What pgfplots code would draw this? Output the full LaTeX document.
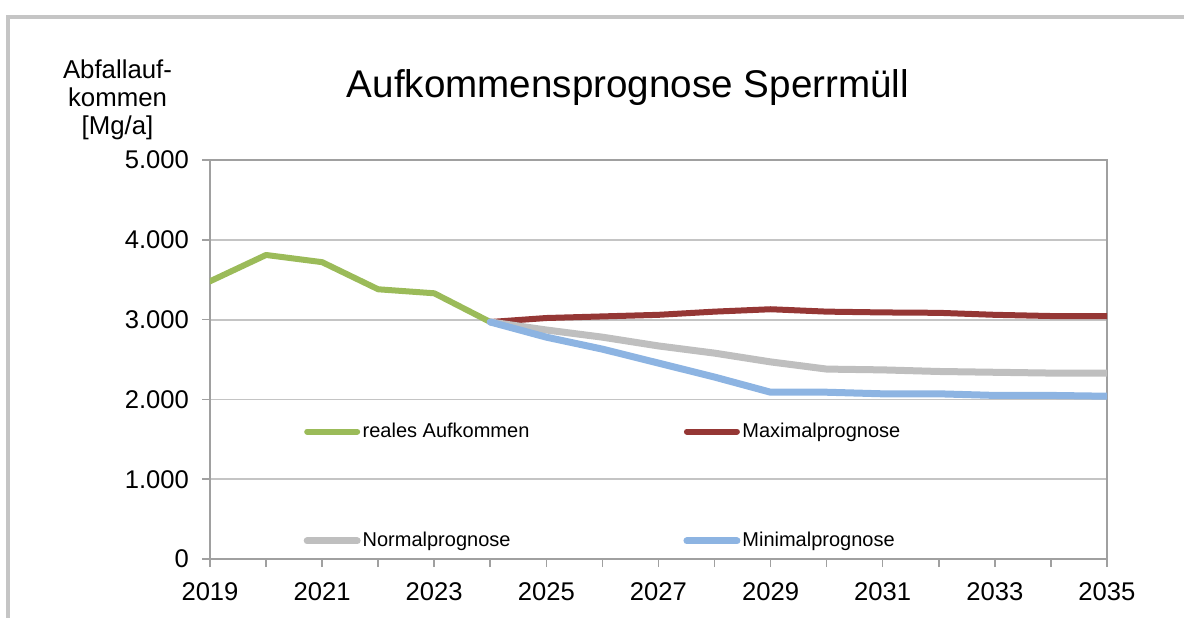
\documentclass[border=0pt]{standalone}
\usepackage{pgfplots}
\pgfplotsset{compat=1.18}
\usepackage{fontspec}
\setmainfont{Liberation Sans}
\definecolor{cgreen}{HTML}{9BBB59}
\definecolor{cred}{HTML}{953735}
\definecolor{cgray}{HTML}{BFBFBF}
\definecolor{cblue}{HTML}{8DB4E2}
\definecolor{caxis}{HTML}{A0A0A0}
\definecolor{cgrid}{HTML}{C4C4C4}
\begin{document}
\begin{tikzpicture}
\path[use as bounding box] (-105pt,-29pt) rectangle (487pt,279.5pt);
\draw[cgray!90, line width=2pt] (-101pt,-60pt) -- (-101pt,271pt) -- (600pt,271pt);
\begin{axis}[
  scale only axis,
  width=448.5pt, height=199.5pt,
  xmin=2019, xmax=2035, ymin=0, ymax=5000,
  xtick={2019,...,2035},
  xticklabels={2019,,2021,,2023,,2025,,2027,,2029,,2031,,2033,,2035},
  ytick={0,1000,2000,3000,4000,5000},
  yticklabels={0,1.000,2.000,3.000,4.000,5.000},
  xtick pos=left, ytick pos=left,
  tick align=outside,
  major tick length=4pt,
  tick style={caxis, line width=0.8pt},
  axis line style={caxis, line width=0.9pt},
  ymajorgrids,
  grid style={cgrid, line width=0.9pt},
  ticklabel style={font=\fontsize{12.8}{14}\selectfont},
  xticklabel style={yshift=-4.5pt},
  yticklabel style={xshift=-3pt},
  /pgf/number format/assume math mode=true,
  legend columns=2,
  legend cell align=left,
  legend style={at={(0.104,0.3475)}, anchor=north west, draw=none, fill=none,
    inner sep=0pt, row sep=44pt,
    font=\fontsize{10}{11}\selectfont,
    nodes={inner sep=1pt},
    /tikz/every even column/.append style={column sep=76pt}},
  legend image code/.code={\draw[#1] (0pt,0pt) -- (25pt,0pt);},
  every axis plot/.append style={line join=round, line cap=round},
]
\addplot[cgreen, line width=3pt] table {
x y
2019 3480
2020 3810
2021 3720
2022 3380
2023 3330
2024 2970
};
\addlegendentry{reales Aufkommen}
\addplot[cred, line width=3pt] table {
x y
2024 2970
2025 3020
2026 3040
2027 3060
2028 3100
2029 3130
2030 3100
2031 3090
2032 3085
2033 3060
2034 3045
2035 3045
};
\addlegendentry{Maximalprognose}
\addplot[cgray, line width=3.5pt] table {
x y
2024 2970
2025 2870
2026 2780
2027 2670
2028 2580
2029 2470
2030 2380
2031 2370
2032 2350
2033 2340
2034 2330
2035 2330
};
\addlegendentry{Normalprognose}
\addplot[cblue, line width=3.5pt] table {
x y
2024 2970
2025 2780
2026 2630
2027 2455
2028 2280
2029 2090
2030 2090
2031 2070
2032 2070
2033 2050
2034 2050
2035 2040
};
\addlegendentry{Minimalprognose}
\end{axis}
\node[anchor=base, font=\fontsize{19.3}{22}\selectfont] at (209pt,230.5pt) {Aufkommensprognose Sperrmüll};
\node[anchor=base, align=center, font=\fontsize{12.9}{14}\selectfont] at (-46.25pt,212pt) {Abfallauf-\\kommen\\{[Mg/a]}};
\end{tikzpicture}
\end{document}
